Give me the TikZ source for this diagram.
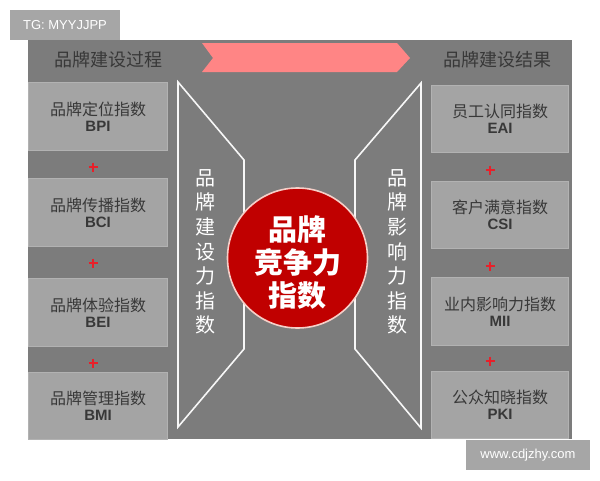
\documentclass[tikz,border=0pt]{standalone}
\usepackage{fontspec}
\setmainfont{Liberation Sans}
\newfontfamily\cjk{Noto Sans CJK SC}
\definecolor{panel}{HTML}{7C7C7C}
\definecolor{boxfill}{HTML}{A4A4A4}
\definecolor{boxline}{HTML}{B2B2B2}
\definecolor{darktext}{HTML}{383838}
\definecolor{pinkband}{HTML}{FF8585}
\definecolor{circred}{HTML}{C00000}
\definecolor{circline}{HTML}{F6CFC8}
\definecolor{plusred}{HTML}{E8202A}
\definecolor{wmgray}{HTML}{A6A6A6}
\tikzset{
  idxbox/.style={draw=boxline, line width=1pt, fill=boxfill},
  cntext/.style={font=\cjk\fontsize{16}{16}\selectfont, text=darktext, inner sep=0pt},
  entext/.style={font=\bfseries\fontsize{15}{15}\selectfont, text=darktext, inner sep=0pt},
  headtext/.style={font=\cjk\fontsize{18}{18}\selectfont, text=darktext, inner sep=0pt},
  vtext/.style={font=\cjk\fontsize{20}{24.6}\selectfont, text=white, align=center, inner sep=0pt},
  trap/.style={draw=white!94!gray, line width=1.6pt, line join=miter},
  plus/.style={draw=plusred, line width=2.2pt},
  wm/.style={fill=wmgray, text=white, font=\fontsize{13}{13}\selectfont, inner sep=0pt}
}
\begin{document}
\begin{tikzpicture}[x=1pt,y=-1pt]
\useasboundingbox (0,0) rectangle (600,480);
\fill[white] (0,0) rectangle (600,480);
% main panel
\fill[panel] (28,40) rectangle (572,439);
% banner
\fill[pinkband] (202,43) -- (397,43) -- (410,58) -- (397,72) -- (202,72) -- (213,58) -- cycle;
\node[headtext] (hl) at (108,60) {品牌建设过程};
\node[headtext] (hr) at (497,60) {品牌建设结果};
% left boxes
\foreach \n/\cn/\en/\ya/\yb in {bpi/品牌定位指数/BPI/82/150, bci/品牌传播指数/BCI/178/246, bei/品牌体验指数/BEI/278/346, bmi/品牌管理指数/BMI/372/439}{
  \draw[idxbox] (28,\ya) rectangle (167,\yb);
  \node[cntext] (\n c) at (98,{(\ya+\yb)/2-7}) {\cn};
  \node[entext] (\n e) at (98,{(\ya+\yb)/2+10}) {\en};
}
% right boxes
\foreach \n/\cn/\en/\ya/\yb in {eai/员工认同指数/EAI/85/152, csi/客户满意指数/CSI/181/248, mii/业内影响力指数/MII/277/345, pki/公众知晓指数/PKI/371/438}{
  \draw[idxbox] (431,\ya) rectangle (568,\yb);
  \node[cntext] (\n c) at (500,{(\ya+\yb)/2-7}) {\cn};
  \node[entext] (\n e) at (500,{(\ya+\yb)/2+10}) {\en};
}
% plus signs
\foreach \px/\py in {93/167, 93/263, 93/363, 490/170, 490/266, 490/361}{
  \draw[plus] (\px-4.5,\py) -- (\px+4.5,\py);
  \draw[plus] (\px,\py-4.5) -- (\px,\py+4.5);
}
% trapezoids
\draw[trap] (178,82) -- (244,160) -- (244,349) -- (178,427) -- cycle;
\draw[trap] (421,83) -- (355,160) -- (355,349) -- (421,428) -- cycle;
\node[vtext] (vl) at (205,252) {品\\牌\\建\\设\\力\\指\\数};
\node[vtext] (vr) at (397,252) {品\\牌\\影\\响\\力\\指\\数};
% circle
\node[circle, fill=circred, draw=circline, line width=1.6pt, minimum size=140pt, inner sep=0pt] (core) at (297.5,258) {};
\node[font=\cjk\bfseries\fontsize{29}{33}\selectfont, text=white, align=center, inner sep=0pt] (coretext) at (297.5,263) {品牌\\竞争力\\指数};
% watermarks
\node[wm, minimum width=110pt, minimum height=30pt] (wm1) at (65,25) {TG: MYYJJPP};
\node[wm, minimum width=124pt, minimum height=30pt] (wm2) at (528,455) {www.cdjzhy.com};
\end{tikzpicture}
\end{document}
